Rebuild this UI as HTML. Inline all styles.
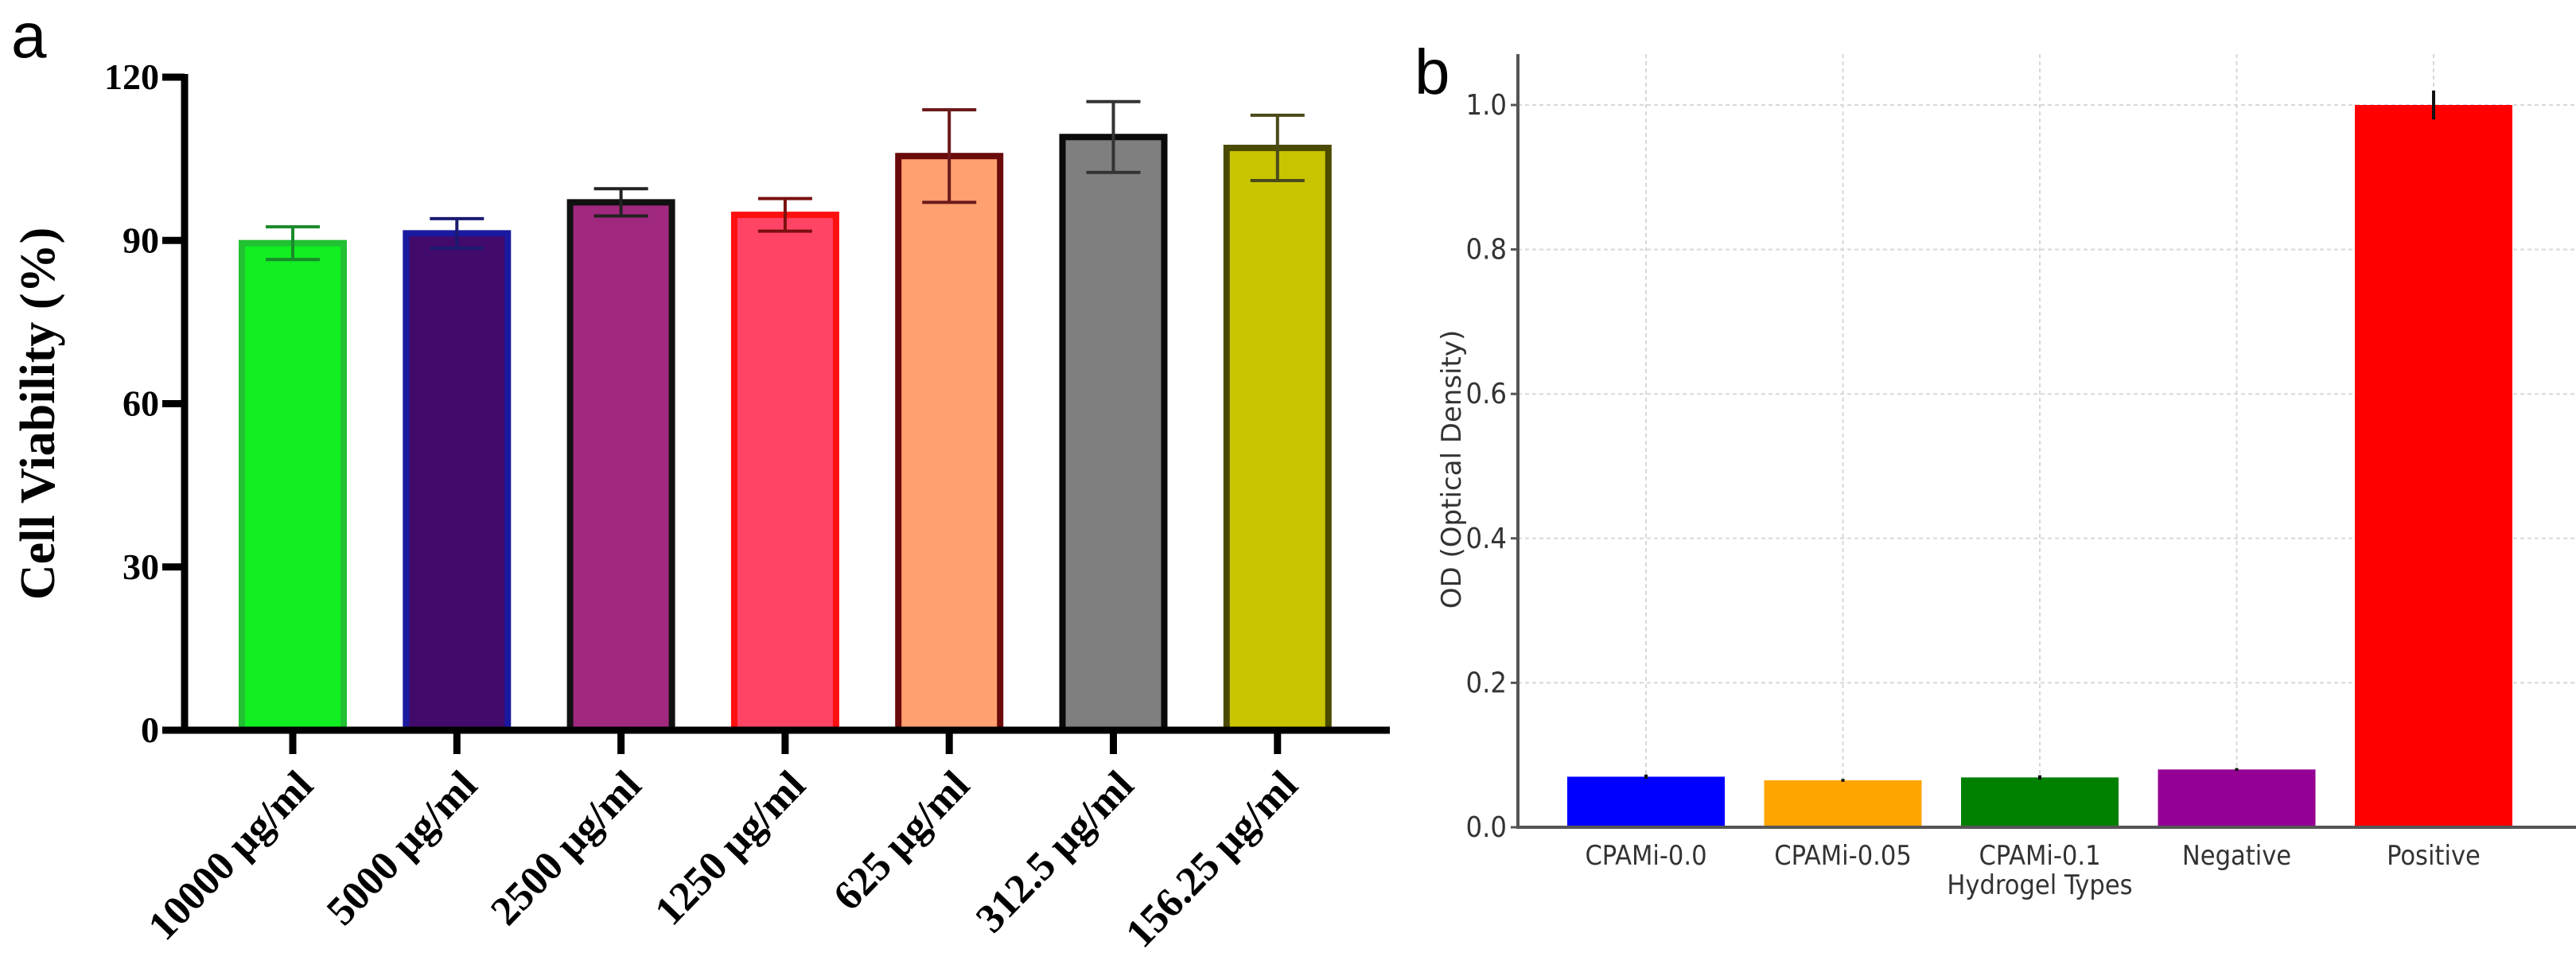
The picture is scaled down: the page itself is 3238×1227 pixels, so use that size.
<!DOCTYPE html>
<html><head><meta charset="utf-8"><style>
html,body{margin:0;padding:0;background:#fff;}
svg{display:block;}
</style></head><body>
<svg id="fig" width="3238" height="1227" viewBox="0 0 3238 1227" xmlns="http://www.w3.org/2000/svg">
<text x="14" y="72" font-family="Liberation Sans, sans-serif" font-size="80" fill="#000">a</text>
<text x="1778" y="118" font-family="Liberation Sans, sans-serif" font-size="80" fill="#000">b</text>
<g id="ga"></g>
<g id="gb"></g>
</svg>
<script>
const NS='http://www.w3.org/2000/svg';
// Panel a data
const catsA=['10000 μg/ml','5000 μg/ml','2500 μg/ml','1250 μg/ml','625 μg/ml','312.5 μg/ml','156.25 μg/ml'];
const valsA=[89.5,91.3,97,94.7,105.5,109,107];
const errsA=[3,2.7,2.5,3,8.5,6.5,6];
const ticksA=[0,30,60,90,120];
const fillsA=['#11ee22','#420a6b','#a0287f','#ff4466','#ffa070','#7f7f7f','#c8c400'];
const strokesA=['#22c033','#1a1aa0','#111111','#ff1010','#6b0a0a','#0a0a0a','#4a4a00'];
const errColA=['#1a8a2a','#1a1a70','#222222','#7a1010','#6b1a1a','#333333','#4a4a1a'];
// Panel b data
const catsB=['CPAMi-0.0','CPAMi-0.05','CPAMi-0.1','Negative','Positive'];
const valsB=[0.070,0.065,0.069,0.080,1.0];
const errsB=[0.003,0.002,0.003,0.002,0.02];
const ticksB=[0.0,0.2,0.4,0.6,0.8,1.0];
const colsB=['#0000ff','#ffa500','#008000','#940094','#ff0000'];

function mk(parent,tag,attrs,text){const e=document.createElementNS(NS,tag);for(const k in attrs)e.setAttribute(k,attrs[k]);if(text!==undefined)e.textContent=text;parent.appendChild(e);return e;}

// ---- Panel a
const ga=document.getElementById('ga');
const ax0=232, ay0=918, ayTop=97, aMax=120;
const yA=v=>ay0-(v/aMax)*(ay0-ayTop);
const x0A=368, stepA=206.3, bwA=128;
const xA=i=>x0A+i*stepA;
ticksA.forEach(t=>{
  const l=mk(ga,'line',{x1:ax0-28,x2:ax0,y1:yA(t),y2:yA(t),stroke:'#000','stroke-width':9});
  
  
  const tx=mk(ga,'text',{x:ax0-32,y:yA(t)+15,'text-anchor':'end','font-family':'Liberation Serif, serif','font-weight':'bold','font-size':46,fill:'#000'},String(t));
  
  
});
catsA.forEach((c,i)=>{
  const cx=xA(i);
  const r=mk(ga,'rect',{x:cx-bwA/2,y:yA(valsA[i]),width:bwA,height:ay0-yA(valsA[i]),fill:fillsA[i],stroke:strokesA[i],'stroke-width':8});
  
  
  const eg=mk(ga,'g',{stroke:errColA[i],'stroke-width':4});
  
  
  const hi=yA(valsA[i]+errsA[i]), lo=yA(valsA[i]-errsA[i]);
  mk(eg,'line',{x1:cx,x2:cx,y1:hi,y2:lo});
  mk(eg,'line',{x1:cx-34,x2:cx+34,y1:hi,y2:hi});
  mk(eg,'line',{x1:cx-34,x2:cx+34,y1:lo,y2:lo});
  const tk=mk(ga,'line',{x1:cx,x2:cx,y1:ay0,y2:ay0+30,stroke:'#000','stroke-width':9});
  
  
  const tx=mk(ga,'text',{x:0,y:0,'text-anchor':'end','font-family':'Liberation Serif, serif','font-weight':'bold','font-size':52,fill:'#000',transform:'translate('+(cx+28)+','+(ay0+72)+') rotate(-46)'},c);
  
  
});
const axA=mk(ga,'path',{d:'M'+ax0+' '+(ayTop-4)+' V'+ay0+' H1747',stroke:'#000','stroke-width':9,fill:'none'});


const ytA=mk(ga,'text',{x:0,y:0,'text-anchor':'middle','font-family':'Liberation Serif, serif','font-weight':'bold','font-size':62,fill:'#000',transform:'translate(68,520) rotate(-90)'},'Cell Viability (%)');



// ---- Panel b
const gb=document.getElementById('gb');
const bx0=1908, by0=1040, byOne=132;
const yB=v=>by0-v*(by0-byOne);
const x0B=2069, stepB=247.5, bwB=198;
const xB=i=>x0B+i*stepB;
ticksB.forEach(t=>{
  if(t>0){const g=mk(gb,'line',{x1:bx0,x2:3238,y1:yB(t),y2:yB(t),stroke:'#d8d8d8','stroke-width':2,'stroke-dasharray':'5,4'});
  
  }
  const l=mk(gb,'line',{x1:bx0-9,x2:bx0,y1:yB(t),y2:yB(t),stroke:'#555','stroke-width':3});
  
  
  const tx=mk(gb,'text',{x:bx0-14,y:yB(t)+12,'text-anchor':'end','font-family':'DejaVu Sans Condensed, DejaVu Sans, sans-serif','font-size':36,fill:'#333'},t.toFixed(1));
  
  
});
catsB.forEach((c,i)=>{
  const cx=xB(i);
  const g=mk(gb,'line',{x1:cx,x2:cx,y1:68,y2:by0,stroke:'#d8d8d8','stroke-width':2,'stroke-dasharray':'5,4'});
  
  
});
catsB.forEach((c,i)=>{
  const cx=xB(i);
  const r=mk(gb,'rect',{x:cx-bwB/2,y:yB(valsB[i]),width:bwB,height:by0-yB(valsB[i]),fill:colsB[i]});
  
  
  const e=mk(gb,'line',{x1:cx,x2:cx,y1:yB(valsB[i]+errsB[i]),y2:yB(valsB[i]-errsB[i]),stroke:'#111','stroke-width':4});
  
  
  const tx=mk(gb,'text',{x:cx,y:by0+47,'text-anchor':'middle','font-family':'DejaVu Sans Condensed, DejaVu Sans, sans-serif','font-size':34,fill:'#333'},c);
  
  
});
const axB=mk(gb,'path',{d:'M'+bx0+' 68 V'+by0+' H3238',stroke:'#555','stroke-width':4,fill:'none'});


const xtB=mk(gb,'text',{x:xB(2),y:by0+84,'text-anchor':'middle','font-family':'DejaVu Sans Condensed, DejaVu Sans, sans-serif','font-size':34,fill:'#333'},'Hydrogel Types');


const ytB=mk(gb,'text',{x:0,y:0,'text-anchor':'middle','font-family':'DejaVu Sans, sans-serif','font-size':34,fill:'#333',transform:'translate(1836,590) rotate(-90)'},'OD (Optical Density)');


</script>
</body></html>
